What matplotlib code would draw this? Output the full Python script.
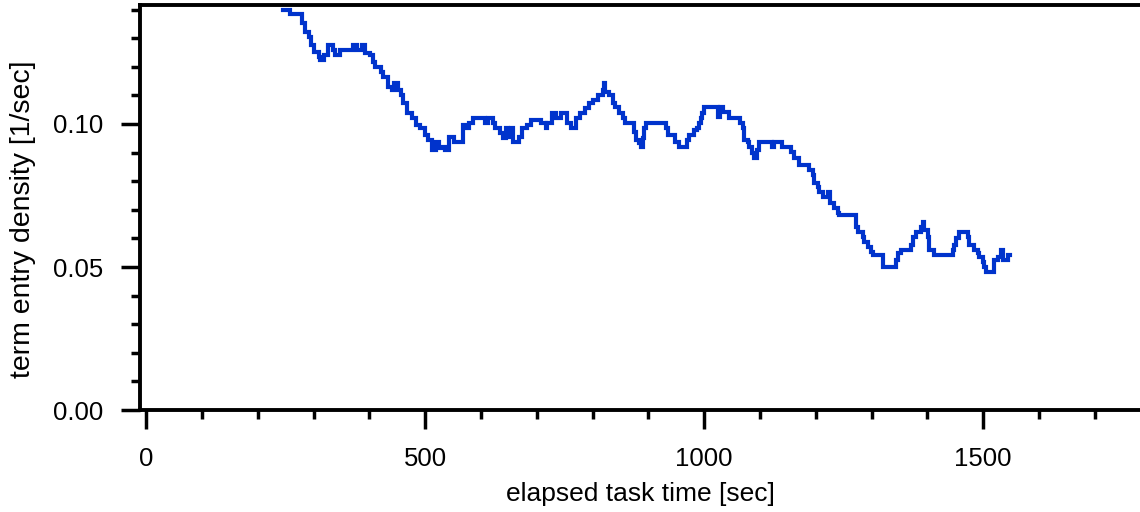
import matplotlib
matplotlib.use('Agg')
from matplotlib import pyplot as plt
from matplotlib.ticker import MultipleLocator, FormatStrFormatter

plt.rcParams['font.family'] = ['Liberation Sans', 'DejaVu Sans']

# step change times [sec] and the density level held from that time on
step_times = [246, 258, 280, 285, 291, 296, 300, 309, 312, 319, 326, 334, 339, 348,
              370, 377, 387, 393, 402, 407, 411, 420, 425, 434, 441, 445, 452, 456,
              461, 468, 477, 483, 491, 500, 506, 513, 520, 524, 529, 536, 542, 551,
              567, 572, 578, 585, 608, 613, 621, 626, 635, 639, 644, 648, 653, 657,
              669, 674, 683, 689, 707, 716, 719, 728, 735, 743, 755, 762, 770, 778,
              787, 793, 800, 809, 818, 820, 823, 829, 836, 841, 847, 854, 859, 874,
              877, 883, 886, 890, 892, 895, 931, 935, 947, 954, 970, 972, 981, 988,
              990, 994, 997, 999, 1024, 1028, 1033, 1044, 1065, 1069, 1071, 1078,
              1080, 1085, 1089, 1094, 1098, 1121, 1125, 1139, 1155, 1161, 1170, 1187,
              1195, 1196, 1204, 1205, 1213, 1222, 1225, 1232, 1239, 1241, 1272, 1275,
              1284, 1286, 1293, 1299, 1302, 1320, 1344, 1347, 1352, 1370, 1374, 1379,
              1388, 1392, 1394, 1401, 1403, 1412, 1446, 1448, 1451, 1456, 1473, 1474,
              1483, 1491, 1492, 1500, 1501, 1505, 1519, 1526, 1532, 1535, 1544, 1548]
density = [0.1400, 0.1386, 0.1353, 0.1322, 0.1304, 0.1276, 0.1252, 0.1234, 0.1224,
           0.1241, 0.1276, 0.1259, 0.1241, 0.1259, 0.1276, 0.1259, 0.1276, 0.1248,
           0.1241, 0.1217, 0.1199, 0.1182, 0.1164, 0.1129, 0.1119, 0.1143, 0.1119,
           0.1101, 0.1073, 0.1038, 0.1021, 0.0997, 0.0986, 0.0962, 0.0944, 0.0909,
           0.0937, 0.0916, 0.0920, 0.0909, 0.0955, 0.0937, 0.0997, 0.0986, 0.1003,
           0.1021, 0.1003, 0.1021, 0.1003, 0.0986, 0.0969, 0.0951, 0.0986, 0.0955,
           0.0986, 0.0937, 0.0955, 0.0986, 0.0997, 0.1014, 0.1003, 0.0986, 0.1003,
           0.1038, 0.1021, 0.1038, 0.1003, 0.0986, 0.1021, 0.1038, 0.1056, 0.1073,
           0.1084, 0.1101, 0.1119, 0.1143, 0.1112, 0.1101, 0.1073, 0.1059, 0.1038,
           0.1021, 0.1003, 0.0972, 0.0944, 0.0934, 0.0920, 0.0951, 0.0986, 0.1003,
           0.0986, 0.0962, 0.0937, 0.0920, 0.0944, 0.0962, 0.0979, 0.0986, 0.1003,
           0.1021, 0.1038, 0.1059, 0.1024, 0.1059, 0.1042, 0.1021, 0.1003, 0.0986,
           0.0944, 0.0937, 0.0920, 0.0899, 0.0881, 0.0909, 0.0937, 0.0920, 0.0937,
           0.0920, 0.0902, 0.0881, 0.0857, 0.0839, 0.0822, 0.0794, 0.0780, 0.0762,
           0.0745, 0.0762, 0.0724, 0.0706, 0.0689, 0.0682, 0.0640, 0.0622, 0.0605,
           0.0587, 0.0570, 0.0552, 0.0542, 0.0500, 0.0524, 0.0549, 0.0559, 0.0577,
           0.0605, 0.0622, 0.0640, 0.0657, 0.0629, 0.0605, 0.0559, 0.0542, 0.0559,
           0.0577, 0.0601, 0.0622, 0.0605, 0.0577, 0.0559, 0.0549, 0.0535, 0.0517,
           0.0500, 0.0483, 0.0524, 0.0535, 0.0559, 0.0524, 0.0542, 0.0542]

X_LABEL = 'elapsed task time [sec]'
Y_LABEL = 'term entry density [1/sec]'
LINE_COLOR = '#0033cc'


def main():
    fig = plt.figure(figsize=(11.4, 5.12), dpi=100)
    ax = fig.add_axes([0.1228, 0.1992, 0.8772, 0.7910])

    ax.step(step_times, density, where='post', color=LINE_COLOR, lw=3.0,
            solid_joinstyle='miter')

    ax.set_xlim(-11, 1781)
    ax.set_ylim(0, 0.1416)

    ax.xaxis.set_major_locator(MultipleLocator(500))
    ax.xaxis.set_minor_locator(MultipleLocator(100))
    ax.yaxis.set_major_locator(MultipleLocator(0.05))
    ax.yaxis.set_minor_locator(MultipleLocator(0.01))
    ax.yaxis.set_major_formatter(FormatStrFormatter('%.2f'))

    for side in ['left', 'bottom', 'top']:
        ax.spines[side].set_linewidth(2.8)
    ax.spines['right'].set_visible(False)

    ax.tick_params(which='both', direction='out', width=2.5, top=False, right=False,
                   labelsize=18.5, pad=13)
    ax.tick_params(which='major', length=13.5)
    ax.tick_params(which='minor', length=6.5)

    ax.set_xlabel(X_LABEL, fontsize=19, labelpad=8)
    ax.set_ylabel(Y_LABEL, fontsize=20.5)
    ax.yaxis.set_label_coords(-0.104, 0.47)

    fig.savefig('out.png', dpi=100)


if __name__ == '__main__':
    main()
